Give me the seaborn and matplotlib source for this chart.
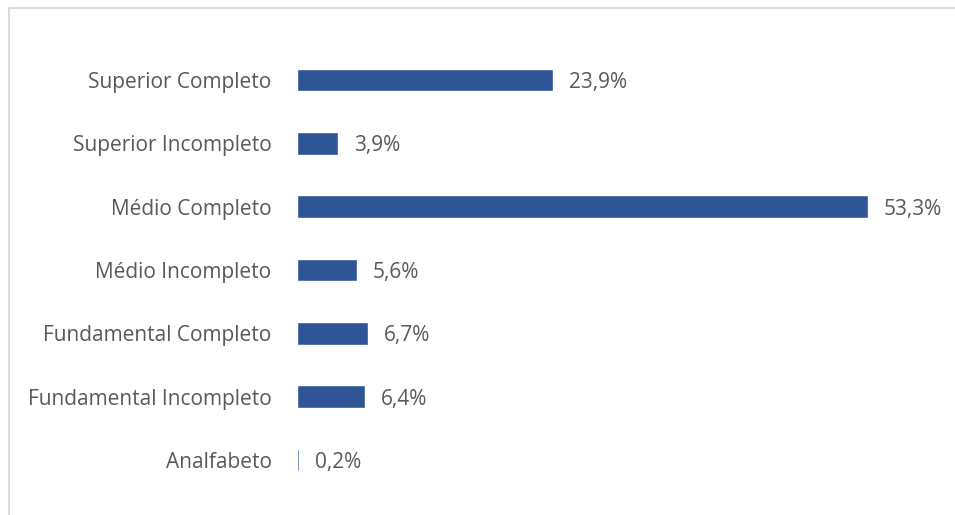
import matplotlib
matplotlib.use("Agg")
import matplotlib.pyplot as plt
import seaborn as sns
import pandas as pd
from matplotlib.patches import Rectangle

categories = ["Superior Completo", "Superior Incompleto", "Médio Completo",
              "Médio Incompleto", "Fundamental Completo", "Fundamental Incompleto",
              "Analfabeto"]
values = [23.9, 3.9, 53.3, 5.6, 6.7, 6.4, 0.2]
labels = ["23,9%", "3,9%", "53,3%", "5,6%", "6,7%", "6,4%", "0,2%"]

df = pd.DataFrame({"cat": categories, "val": values})

sns.set_theme(style="white")
plt.rcParams['font.family'] = ['Open Sans', 'DejaVu Sans']

W, H = 955, 515
fig = plt.figure(figsize=(W / 100, H / 100), dpi=100)
fig.patch.set_facecolor("white")

# outer frame
fig.add_artist(Rectangle((9 / W, -0.05), 1.2, 1 - 8 / H + 0.05, transform=fig.transFigure,
                         fill=False, edgecolor="#D9D9D9", linewidth=1.3))

x0 = 296.5 / W
ax_w = (907 - 296.5) / W
top = 1 - 48.3 / H
bottom = 1 - 491.7 / H
ax = fig.add_axes([x0, bottom, ax_w, top - bottom])

sns.barplot(data=df, x="val", y="cat", orient="h", color="#2F5597",
            saturation=1, width=0.36, ax=ax)

ax.set_xlim(0, (907 - 296.5) / ((868 - 296.5) / 53.3))
ax.set_xlabel("")
ax.set_ylabel("")
ax.set_xticks([])
for s in ax.spines.values():
    s.set_visible(False)
ax.tick_params(axis="y", length=0, pad=18, labelsize=15, labelcolor="#595959")

for i, (v, lab) in enumerate(zip(values, labels)):
    ax.annotate(lab, xy=(v, i), xytext=(11.5, 0), textcoords="offset points",
                va="center_baseline", ha="left", fontsize=15, color="#595959")

fig.savefig("out.png", dpi=100, facecolor="white")
